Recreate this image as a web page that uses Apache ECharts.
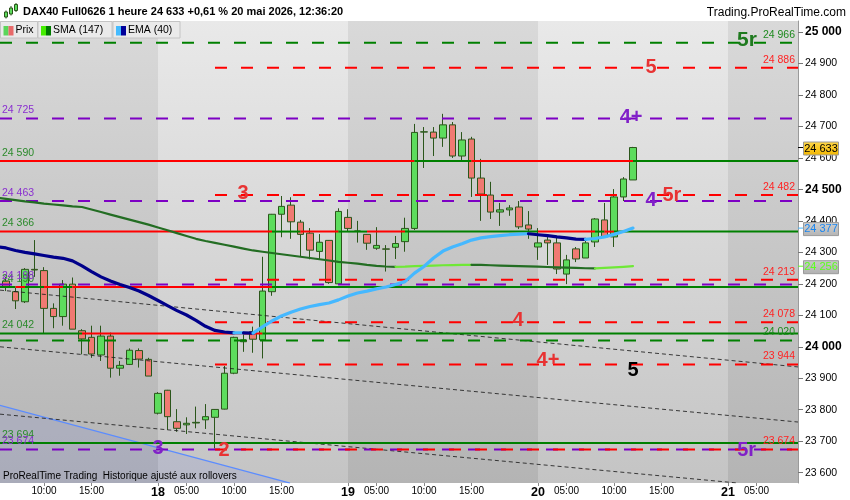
<!DOCTYPE html>
<html>
<head>
<meta charset="utf-8">
<script src="https://cdn.jsdelivr.net/npm/echarts@6.0.0/dist/echarts.min.js"></script>
<style>
html,body{margin:0;padding:0;background:#ffffff;}
#chart{width:850px;height:500px;}
</style>
</head>
<body>
<div id="chart"></div>
<script>
// ---------- time axis ----------
const days = ['17', '18', '19', '20', '21'];
const sessionHours = ['02:00','03:00','04:00','05:00','06:00','07:00','08:00','09:00','10:00','11:00',
                      '12:00','13:00','14:00','15:00','16:00','17:00','18:00','19:00','20:00','21:00'];
const firstBarHourIndex = 4;               // first visible bar = 17th, 06:00
const xTickHours = ['05:00', '10:00', '15:00'];
const yTicks = [23600, 23700, 23800, 23900, 24000, 24100, 24200, 24300, 24400, 24500, 24600, 24700, 24800, 24900, 25000];
const yBoldTicks = [24000, 24500, 25000];

// ---------- DAX40 1h candles ----------
const opens  = [24209,24175,24143,24246,24242,24122,24096,24199,24051,24030,23974,24034,23932,23944,23988,23960,
                23789,23862,23762,23752,23758,23768,23776,23802,23916,24016,24048,24022,24175,24421,24450,24396,24361,24303,24338,24200,
                24411,24368,24357,24313,24311,24316,24334,24376,24682,24682,24663,24705,24606,24660,24536,24482,24428,24435,24444,24387,
                24317,24339,24330,24231,24311,24282,24333,24403,24349,24476,24530];
const highs  = [24222,24187,24250,24339,24253,24138,24212,24220,24056,24067,24067,24045,23955,23995,23995,23965,
                23856,23863,23802,23776,23810,23818,23802,23939,24032,24048,24064,24286,24422,24479,24475,24403,24377,24358,24339,24440,
                24437,24400,24358,24380,24323,24352,24410,24708,24698,24698,24740,24714,24682,24667,24597,24524,24457,24450,24463,24431,
                24377,24352,24346,24292,24317,24339,24409,24457,24501,24539,24635];
const lows   = [24177,24120,24139,24222,24043,24059,24067,24056,23976,23965,23955,23902,23908,23942,23934,23907,
                23785,23736,23730,23723,23741,23739,23677,23801,23913,23984,23981,23963,24162,24348,24343,24286,24278,24279,24200,24200,
                24366,24331,24308,24308,24239,24279,24302,24371,24568,24606,24635,24600,24590,24476,24400,24406,24384,24416,24374,24343,
                24276,24260,24231,24199,24269,24282,24317,24349,24317,24463,24530];
const closes = [24190,24146,24246,24244,24122,24096,24199,24056,24025,23977,24034,23932,23941,23989,23961,23907,
                23852,23778,23741,23757,23760,23778,23801,23916,24030,24022,24024,24177,24421,24446,24397,24357,24307,24332,24204,24430,
                24376,24367,24329,24322,24310,24328,24376,24681,24683,24663,24705,24606,24657,24536,24485,24428,24435,24441,24381,24374,
                24330,24330,24247,24276,24279,24330,24406,24349,24476,24533,24633];

// ---------- indicators (values from bar -1) ----------
const indicatorStartBar = -1;
const sma147 = [24474,24470,24466,24462,24459,24455,24452,24449,24446,24444,24436,24428,24420,24412,24404,24396,24388,
                24379,24370,24361,24352,24343,24336,24330,24324,24318,24312,24306,24302,24298,24294,24290,24286,24282,24278,24274,24270,
                24267,24264,24260,24257,24255,24254,24254.5,24256,24257,24258,24259,24259.5,24260,24260.5,24260,24259,24258,24257,24256,24255.5,
                24254.5,24253.5,24252.5,24251.5,24250.5,24249.5,24249,24250.5,24252,24254,24256];
const ema40  = [24318,24314,24306,24300,24295,24290,24285,24281,24273,24257,24239,24222,24209,24198,24188,24177,24163,
                24147,24131,24115,24101,24084,24065,24052,24047,24044,24044.5,24043.5,24063,24082,24098,24110,24120,24128,24134,24139,24149,
                24161,24171,24177,24184,24190,24198,24207,24234,24255,24282,24304,24317,24327,24339,24346,24350,24353,24356,24358,24359,
                24356,24353,24349,24346,24342,24341,24344,24349,24357,24366,24377];

// ---------- horizontal levels ----------
const supportLevels   = [24590, 24366, 24190, 24042, 23694];
const purpleLevels    = [24725, 24463, 24198, 23674];
const greenDashLevels = [24966, 24020];
const redDashLevels   = [24886, 24482, 24213, 24078, 23944, 23674];
const redDashStartBar = 22;

// ---------- channel / regression lines [bar, price] ----------
const channelLines = [
  [[-0.632, 24180], [83.37, 23936]],
  [[-0.632, 24000], [83.37, 23761]],
  [[-0.632, 23786], [77.1, 23567]]
];
const regressionLine = [[-0.632, 23814], [29.9, 23567]];

// ---------- annotations ----------
const annoText  = ['5r', '5', '4+', '3', '5r', '4', '4', '4+', '5', '3', '2', '5r'];
const annoBar   = [78.0, 67.9, 65.8, 24.95, 70.1, 67.9, 53.9, 57.05, 66.0, 16.0, 22.95, 77.97];
const annoPrice = [24973, 24886, 24728, 24488, 24482, 24466, 24085, 23955, 23926, 23678, 23670, 23672];
const annoKind  = ['green', 'red', 'purple', 'red', 'red', 'purple', 'red', 'red', 'black', 'purple', 'red', 'purple'];

const titleText = 'DAX40 Full0626 1 heure 24 633 +0,61 % 20 mai 2026, 12:36:20';
const siteText = 'Trading.ProRealTime.com';
const footerText = 'ProRealTime Trading  Historique ajusté aux rollovers';
const legendNames = ['Prix', 'SMA (147)', 'EMA (40)'];

// ================= rendering =================
const FONT = '"Liberation Sans", Arial, Helvetica, sans-serif';
const GREEN = '#008000', RED = '#ff0000', PURPLE = '#7d00c4';
const X_MIN = -0.632, X_MAX = 83.37, Y_MIN = 23567.3, Y_MAX = 25034.9;
const ANNO_COLORS = {green: '#1f7a1f', red: '#e83232', purple: '#8020c8', black: '#000000'};

const fmt = v => String(Math.round(v)).replace(/\B(?=(\d{3})+(?!\d))/g, ' ');
function barTime(b) {
  const k = b + firstBarHourIndex, n = sessionHours.length;
  return {day: days[Math.floor(k / n)], hour: sessionHours[((k % n) + n) % n], dayIdx: Math.floor(k / n)};
}

const candleData = opens.map((o, i) => [i, o, closes[i], lows[i], highs[i]]);

const xTickValues = [];
const dayStarts = [];
for (let b = Math.ceil(X_MIN); b <= Math.floor(X_MAX); b++) {
  const t = barTime(b);
  if (t.hour === sessionHours[0]) { xTickValues.push(b); dayStarts.push(b); }
  else if (xTickHours.includes(t.hour)) xTickValues.push(b);
}

function colorRuns(points, colorOf) {
  const out = []; let cur = null, pts = [];
  for (let s = 0; s < points.length - 1; s++) {
    const c = colorOf(s);
    if (c !== cur) {
      if (pts.length > 1) out.push({coords: pts, lineStyle: {color: cur}});
      pts = [points[s]]; cur = c;
    }
    pts.push(points[s + 1]);
  }
  if (pts.length > 1) out.push({coords: pts, lineStyle: {color: cur}});
  return out;
}

// support levels: green while the bar closes above, red below
let supportData = [];
supportLevels.forEach(L => {
  const pts = [[X_MIN, L]].concat(closes.map((c, i) => [i, L])).concat([[X_MAX, L]]);
  supportData = supportData.concat(colorRuns(pts, s => closes[Math.max(0, s - 1)] >= L ? GREEN : RED));
});

function indicatorRuns(values, up, down) {
  const pts = values.map((v, k) => [indicatorStartBar + k, v]);
  return colorRuns(pts, s => values[s + 1] > values[s] ? up : down);
}

const dashedData = []
  .concat(greenDashLevels.map(v => ({coords: [[X_MIN, v], [X_MAX, v]], lineStyle: {color: GREEN}})))
  .concat(purpleLevels.map(v => ({coords: [[X_MIN, v], [X_MAX, v]], lineStyle: {color: PURPLE}})))
  .concat(redDashLevels.map(v => ({coords: [[redDashStartBar, v], [X_MAX, v]], lineStyle: {color: RED}})));

const lightBands = [];
dayStarts.forEach((b, k) => {
  const d = barTime(b).dayIdx;
  const end = k + 1 < dayStarts.length ? dayStarts[k + 1] : X_MAX;
  if (d % 2 === 1) lightBands.push([{xAxis: b}, {xAxis: end}]);
});

const grad = (a, b) => ({type: 'linear', x: 0, y: 0, x2: 0, y2: 1,
  colorStops: [{offset: 0, color: a}, {offset: 1, color: b}]});

const chart = echarts.init(document.getElementById('chart'), null, {renderer: 'canvas'});

const option = {
  animation: false,
  backgroundColor: '#ffffff',
  grid: {left: 0, right: 52, top: 21, bottom: 17, containLabel: false, outerBoundsMode: 'none',
         show: true, borderWidth: 0, backgroundColor: grad('#d9d9d9', '#b4b4b4')},
  xAxis: {
    type: 'value', min: X_MIN, max: X_MAX,
    splitLine: {show: false},
    axisLine: {show: false, onZero: false},
    axisTick: {show: true, customValues: xTickValues, length: 3, lineStyle: {color: '#888'}},
    axisLabel: {
      customValues: xTickValues, margin: 3, color: '#000', fontSize: 10, fontFamily: FONT,
      formatter: v => { const t = barTime(Math.round(v)); return t.hour === sessionHours[0] ? '{d|' + t.day + '}' : t.hour; },
      rich: {d: {fontWeight: 'bold', fontSize: 12.5, color: '#000', fontFamily: FONT}}
    }
  },
  yAxis: {
    type: 'value', position: 'right', min: Y_MIN, max: Y_MAX, scale: true,
    splitLine: {show: false},
    axisLine: {show: true, onZero: false, lineStyle: {color: '#9a9a9a'}},
    axisTick: {show: true, length: 5, customValues: yTicks, lineStyle: {color: '#777'}},
    axisLabel: {
      customValues: yTicks, margin: 7, color: '#000', fontSize: 10.5, fontFamily: FONT,
      formatter: v => yBoldTicks.includes(v) ? '{b|' + fmt(v) + '}' : fmt(v),
      rich: {b: {fontWeight: 'bold', fontSize: 12, color: '#000', fontFamily: FONT}}
    }
  },
  series: [
    {
      type: 'line', name: 'regression', data: regressionLine, symbol: 'none', silent: true, z: 2,
      lineStyle: {color: '#5b8cff', width: 1.2},
      areaStyle: {color: 'rgba(70,90,235,0.14)', origin: 'start'},
      markArea: {silent: true, itemStyle: {color: grad('#e9e9e9', '#c4c4c4')}, data: lightBands}
    },
    {
      type: 'candlestick', name: 'Prix', data: candleData, encode: {x: 0, y: [1, 2, 3, 4]},
      barWidth: 7, z: 3, silent: true,
      itemStyle: {color: '#5ddc5d', color0: '#f07a72', borderColor: '#2b561b', borderColor0: '#2b561b', borderWidth: 1}
    },
    {
      type: 'lines', name: 'channels', coordinateSystem: 'cartesian2d', polyline: true, silent: true, z: 4, clip: true,
      data: channelLines.map(c => ({coords: c})),
      lineStyle: {color: '#1e1e1e', width: 1, type: [4, 3], opacity: 0.85}
    },
    {
      type: 'lines', name: 'dashed levels', coordinateSystem: 'cartesian2d', polyline: true, silent: true, z: 5, clip: true,
      data: dashedData, lineStyle: {width: 2, type: [12, 14], opacity: 1}
    },
    {
      type: 'lines', name: 'support levels', coordinateSystem: 'cartesian2d', polyline: true, silent: true, z: 6, clip: true,
      data: supportData, lineStyle: {width: 2, opacity: 1}
    },
    {
      type: 'lines', name: 'SMA (147)', coordinateSystem: 'cartesian2d', polyline: true, silent: true, z: 7, clip: true,
      data: indicatorRuns(sma147, '#6fe836', '#236d23'), lineStyle: {width: 2.2, opacity: 1, cap: 'round', join: 'round'}
    },
    {
      type: 'lines', name: 'EMA (40)', coordinateSystem: 'cartesian2d', polyline: true, silent: true, z: 8, clip: true,
      data: indicatorRuns(ema40, '#45b8ff', '#00008a'), lineStyle: {width: 3.2, opacity: 1, cap: 'round', join: 'round'}
    }
  ]
};
chart.setOption(option);

// ---------- texts & boxes placed through the chart's own scales ----------
const P = (b, v) => chart.convertToPixel({gridIndex: 0}, [b, v]);
const plotL = P(X_MIN, Y_MIN)[0], plotR = P(X_MAX, Y_MIN)[0];
const plotB = P(X_MIN, Y_MIN)[1], plotT = P(X_MIN, Y_MAX)[1];
const g = [];
function txt(x, y, text, fill, size, weight, align, z) {
  g.push({type: 'text', x: x, y: y, z: z || 100, silent: true,
    style: {text: text, fill: fill, fontSize: size, fontWeight: weight || 'normal', fontFamily: FONT,
            align: align || 'left', verticalAlign: 'middle'}});
}
function rect(x, y, w, h, fill, stroke, z) {
  g.push({type: 'rect', z: z || 100, silent: true, shape: {x: x, y: y, width: w, height: h},
    style: {fill: fill, stroke: stroke || null, lineWidth: stroke ? 1 : 0}});
}

// level labels
supportLevels.forEach(v => txt(plotL + 2, P(0, v)[1] - 8, fmt(v), '#2b8a2b', 10.5));
purpleLevels.forEach(v => txt(plotL + 2, P(0, v)[1] - 8, fmt(v), '#8a2fd0', 10.5));
redDashLevels.forEach(v => txt(plotR - 3, P(0, v)[1] - 8, fmt(v), '#ff2222', 10.5, 'normal', 'right'));
greenDashLevels.forEach(v => txt(plotR - 3, P(0, v)[1] - 8, fmt(v), '#1e8a1e', 10.5, 'normal', 'right'));

// wave annotations
annoText.forEach((t, k) => {
  const p = P(annoBar[k], annoPrice[k]);
  txt(p[0], p[1], t, ANNO_COLORS[annoKind[k]], t === '5r' && annoKind[k] === 'green' ? 21 : 20, 'bold', 'center', 110);
});

// current value boxes on the price axis
const boxes = [
  [closes[closes.length - 1], grad('#ffd84a', '#f2b600'), '#000000', '#000000'],
  [ema40[ema40.length - 1], grad('#d0d0d0', '#b4b4b4'), '#1a86f0', '#45b8ff'],
  [sma147[sma147.length - 1], grad('#cacaca', '#b0b0b0'), '#5cff1e', '#5cff1e']
];
boxes.forEach(([v, fill, tc, lc]) => {
  const y = P(0, v)[1] + 1;
  g.push({type: 'line', z: 120, silent: true, shape: {x1: plotR, y1: y - 1, x2: plotR + 5, y2: y - 1}, style: {stroke: lc, lineWidth: 1}});
  rect(plotR + 5.5, y - 6.5, 35, 13, fill, '#9a9a9a', 120);
  txt(plotR + 23, y, fmt(v), tc, 11, 'normal', 'center', 121);
});

// header
txt(23, 12.3, titleText, '#000', 11, 'bold');
txt(846, 12.3, siteText, '#000', 12, 'normal', 'right');
// small candle icon
[[4.5, 12, 3, 5, 10.5, 18.5], [9.5, 8, 3, 6, 6, 15.5], [14.5, 4.5, 3, 6, 3, 12]].forEach(([x, y, w, h, wt, wb]) => {
  g.push({type: 'line', z: 100, silent: true, shape: {x1: x + 1.5, y1: wt, x2: x + 1.5, y2: wb}, style: {stroke: '#2b561b', lineWidth: 1}});
  rect(x, y, w, h, '#5ddc5d', '#2b561b');
});

// legend boxes
const legendBoxes = [[0.5, 37, '#5ad65a', '#e86a6a'], [38, 74, '#44ee00', '#007a00'], [113, 67, '#44bbff', '#00009a']];
legendBoxes.forEach(([x, w, c1, c2], k) => {
  rect(x, plotT + 0.5, w, 16.5, '#eaeaea', '#c4c4c4');
  rect(x + 3, plotT + 5, 5, 9.5, c1);
  rect(x + 8, plotT + 5, 5, 9.5, c2);
  txt(x + 15, plotT + 9.5, legendNames[k], '#000', 10.5);
});

// footer
txt(plotL + 3, plotB - 7, footerText, '#000', 10);

chart.setOption({graphic: {elements: g}});
</script>
</body>
</html>
